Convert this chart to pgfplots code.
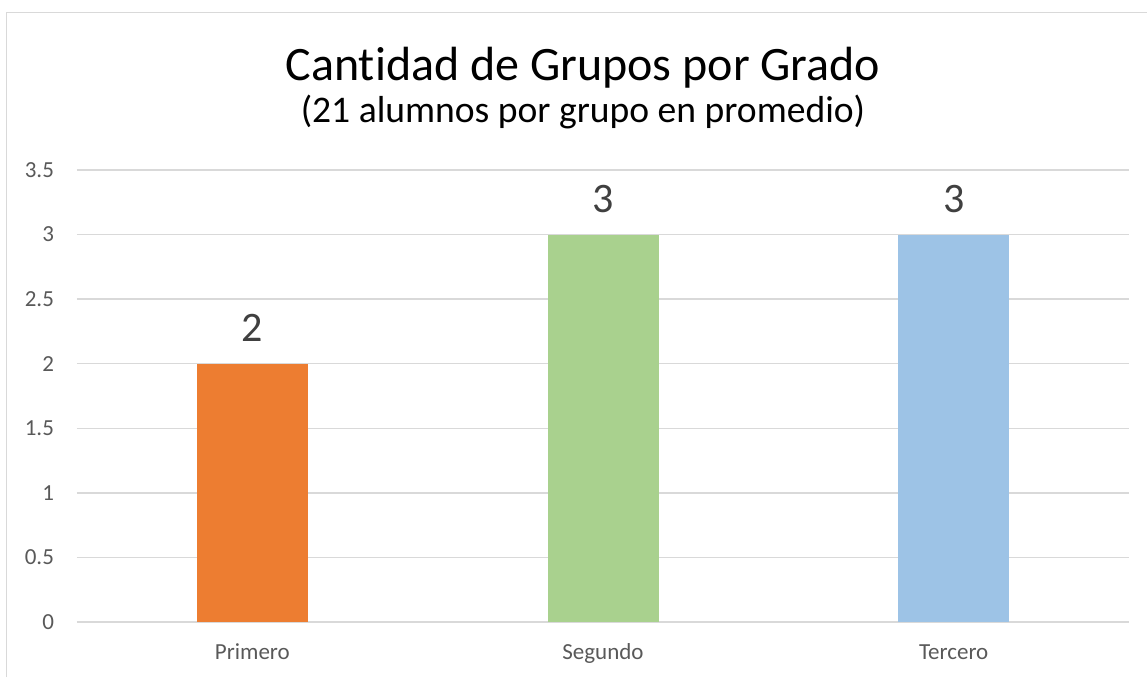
\documentclass[border=0pt]{standalone}
\usepackage{fontspec}
\setmainfont{Carlito}[Ligatures=NoCommon]
\usepackage{pgfplots}
\pgfplotsset{compat=1.18}
\definecolor{barorange}{HTML}{ED7D31}
\definecolor{bargreen}{HTML}{A9D18E}
\definecolor{barblue}{HTML}{9DC3E6}
\definecolor{gridgray}{HTML}{D9D9D9}
\definecolor{tickgray}{HTML}{595959}
\definecolor{labelgray}{HTML}{404040}
\begin{document}
\begin{tikzpicture}
  % 1 px of the reference = 0.5pt
  \useasboundingbox (0,0) rectangle (573.5pt,338.5pt);
  \draw[gridgray, line width=0.75pt] (3.25pt,0) -- (3.25pt,332.25pt) -- (573.5pt,332.25pt);
  \node[anchor=base, inner sep=0, font=\fontsize{24}{28}\selectfont] at (291.5pt,298.5pt)
    {Cantidad de Grupos por Grado};
  \node[anchor=base, inner sep=0, font=\fontsize{18.8}{23}\selectfont] at (291.5pt,277.5pt)
    {(21 alumnos por grupo en promedio)};
  \begin{axis}[
      at={(38.5pt,27.5pt)}, anchor=south west,
      scale only axis, width=526pt, height=226pt,
      ybar, bar width=55.5pt, bar shift=0pt,
      xmin=-0.5, xmax=2.5, ymin=0, ymax=3.5,
      xtick={0,1,2}, xticklabels={Primero,Segundo,Tercero},
      ytick={0,0.5,...,3.5},
      ymajorgrids, grid style={gridgray, line width=0.75pt},
      axis line style={draw=none},
      major tick length=0pt,
      tick label style={font=\fontsize{11.5}{14}\selectfont, text=tickgray},
      /pgf/number format/assume math mode=true,
      yticklabel style={xshift=-8pt},
      xticklabel style={anchor=base, yshift=-18.5pt},
      nodes near coords,
      every node near coord/.append style={font=\fontsize{21}{25}\selectfont,
        text=labelgray, inner sep=0pt, yshift=10.8pt},
      clip=false,
    ]
    \addplot[fill=barorange, draw=none] coordinates {(0,2)};
    \addplot[fill=bargreen, draw=none] coordinates {(1,3)};
    \addplot[fill=barblue, draw=none] coordinates {(2,3)};
  \end{axis}
\end{tikzpicture}
\end{document}
